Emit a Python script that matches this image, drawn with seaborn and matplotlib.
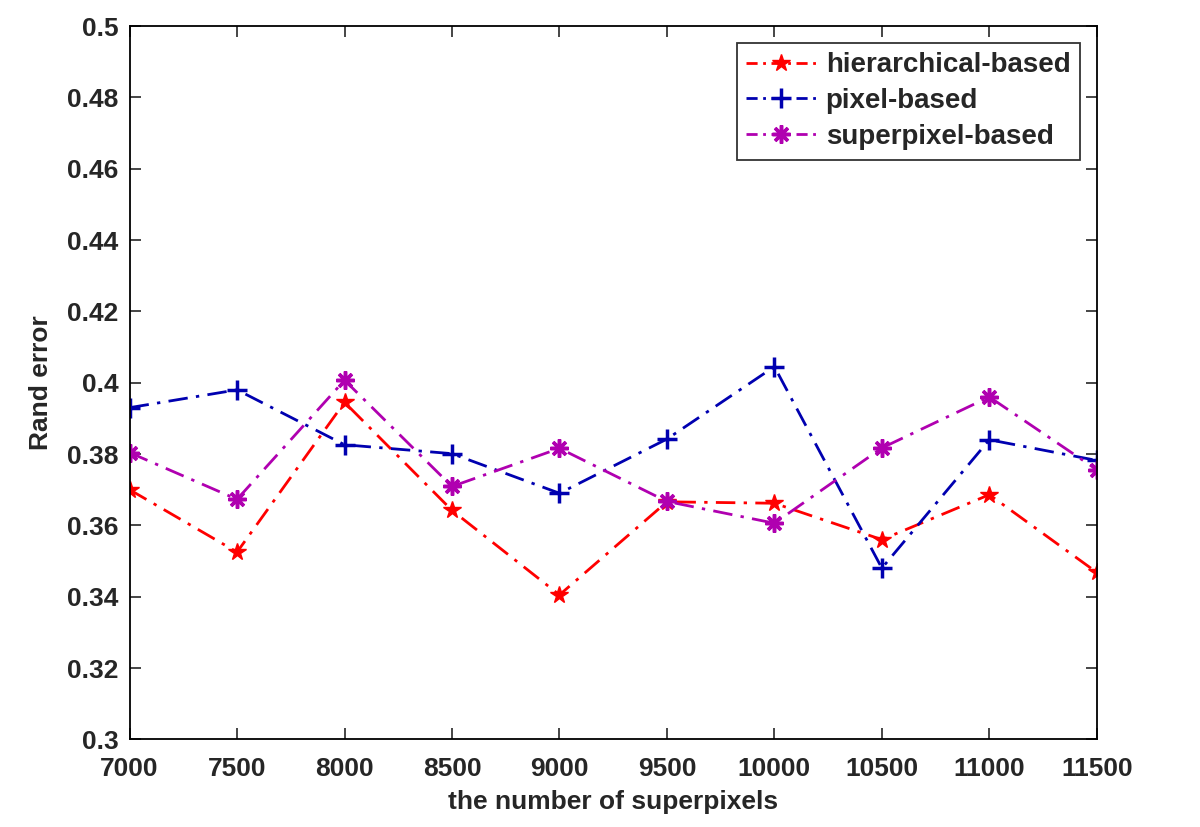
import numpy as np
import pandas as pd
import matplotlib
matplotlib.use("Agg")
import matplotlib.pyplot as plt
import seaborn as sns

x_vals = [7000, 7500, 8000, 8500, 9000, 9500, 10000, 10500, 11000, 11500]
hierarchical = [0.370, 0.3525, 0.3945, 0.3642, 0.3405, 0.3666, 0.3662, 0.3560, 0.3686, 0.3468]
pixel = [0.3930, 0.3980, 0.3826, 0.3801, 0.3690, 0.3842, 0.4045, 0.3480, 0.3840, 0.3782]
superpixel = [0.3804, 0.3673, 0.4007, 0.3709, 0.3816, 0.3667, 0.3606, 0.3817, 0.3960, 0.3756]
series_names = ["hierarchical-based", "pixel-based", "superpixel-based"]
y_ticks = [0.3, 0.32, 0.34, 0.36, 0.38, 0.4, 0.42, 0.44, 0.46, 0.48, 0.5]

df = pd.DataFrame({
    "x": x_vals * 3,
    "y": hierarchical + pixel + superpixel,
    "method": sum([[n] * len(x_vals) for n in series_names], []),
})

sns.set_style("ticks")
plt.rcParams["font.family"] = ["Liberation Sans", "DejaVu Sans"]
plt.rcParams["font.weight"] = "bold"

fig = plt.figure(figsize=(12, 8.27), dpi=100)
ax = fig.add_axes([0.108, 0.106, 0.806, 0.8625])

styles = {
    "hierarchical-based": dict(color="#ff0000", marker="*", ms=13, mec="#ff0000", mfc="#ff0000", mew=1.0),
    "pixel-based": dict(color="#0000b0", marker="+", ms=15, mec="#0000b0", mew=2.5),
    "superpixel-based": dict(color="#b000b0", marker=(8, 2, 0), ms=13, mec="#b000b0", mew=2.5),
}
dash_pattern = (7, 3, 1.2, 3)
for name in series_names:
    sub = df[df["method"] == name]
    st = styles[name]
    sns.lineplot(data=sub, x="x", y="y", ax=ax, color=st["color"], linewidth=2.0,
                 marker=st["marker"], markersize=st["ms"], markeredgecolor=st["mec"],
                 markeredgewidth=st["mew"], label=name, legend=False,
                 dashes=False)
    ln = ax.lines[-1]
    ln.set_dashes(dash_pattern)
    if "mfc" in st:
        ln.set_markerfacecolor(st["mfc"])

ax.set_xlim(7000, 11500)
ax.set_ylim(0.3, 0.5)
ax.set_xticks(x_vals)
ax.set_xticklabels([str(v) for v in x_vals])
ax.set_yticks(y_ticks)
ax.set_yticklabels(["%g" % v for v in y_ticks])
ax.tick_params(direction="in", length=8, width=1.2, top=True, right=True,
               labelsize=19)
ax.tick_params(axis="x", pad=13)
ax.tick_params(axis="y", pad=8)
for s in ax.spines.values():
    s.set_visible(True)
    s.set_linewidth(1.3)
    s.set_color("black")

ax.set_xlabel("the number of superpixels", fontsize=19, fontweight="bold", labelpad=6)
ax.set_ylabel("Rand error", fontsize=19, fontweight="bold", labelpad=10)

leg = ax.legend(loc="upper right", fontsize=20, frameon=True, fancybox=False,
                edgecolor="black", handlelength=2.5, borderpad=0.35,
                labelspacing=0.35, handletextpad=0.35, borderaxespad=0.6)
leg.get_frame().set_linewidth(1.3)
for t in leg.get_texts():
    t.set_fontweight("bold")
for h in leg.get_lines():
    h.set_dashes((4, 2, 1, 2))

fig.savefig("out.png", dpi=100, facecolor="white")
